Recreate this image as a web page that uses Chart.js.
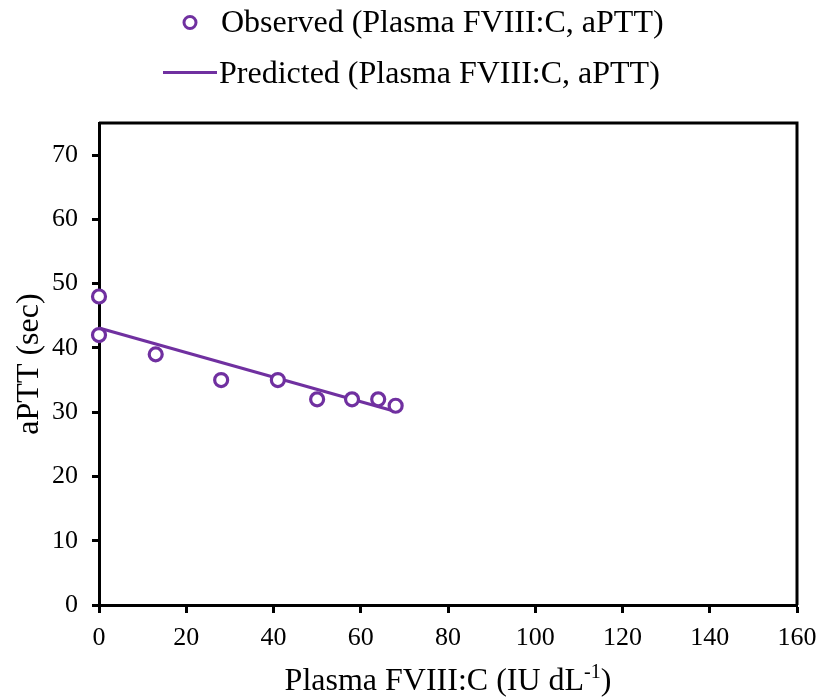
<!DOCTYPE html>
<html>
<head>
<meta charset="utf-8">
<title>aPTT vs Plasma FVIII:C</title>
<script src="https://cdn.jsdelivr.net/npm/chart.js@4.4.1/dist/chart.umd.min.js"></script>
<style>
  html, body { margin: 0; padding: 0; background: #fff; }
  #wrap { width: 821px; height: 698px; }
</style>
</head>
<body>
<div id="wrap"><canvas id="fviiiChart" width="821" height="698"></canvas></div>
<script>
// Observed plasma FVIII:C (IU/dL) and aPTT (sec)
const observedX = [0, 0, 13, 28, 41, 50, 58, 64, 68];
const observedY = [48, 42, 39, 35, 35, 32, 32, 32, 31];

// Model prediction line
const predictedX = [0, 68];
const predictedY = [43.1, 30.1];

const seriesNames = ['Observed (Plasma FVIII:C, aPTT)', 'Predicted (Plasma FVIII:C, aPTT)'];
const xAxisRange = [0, 160, 20];
const yAxisRange = [0, 75, 10];

const PURPLE = '#7030A0';
const FONT = '"Liberation Serif", "Times New Roman", serif';

function toPoints(xs, ys) {
    return xs.map((x, i) => ({ x: x, y: ys[i] }));
}

// Frame around the plot, legend and x title with superscript
const decorations = {
    id: 'decorations',
    afterDraw(chart) {
        const { ctx, chartArea } = chart;
        ctx.save();

        ctx.strokeStyle = '#000';
        ctx.lineWidth = 3;
        ctx.beginPath();
        ctx.moveTo(chartArea.left, chartArea.top);
        ctx.lineTo(chartArea.right, chartArea.top);
        ctx.lineTo(chartArea.right, chartArea.bottom);
        ctx.stroke();

        // legend
        ctx.font = '32px ' + FONT;
        ctx.textBaseline = 'middle';
        ctx.textAlign = 'left';

        ctx.beginPath();
        ctx.arc(190, 22.5, 6, 0, Math.PI * 2);
        ctx.fillStyle = '#fff';
        ctx.fill();
        ctx.strokeStyle = PURPLE;
        ctx.lineWidth = 3;
        ctx.stroke();
        ctx.fillStyle = '#000';
        ctx.fillText(seriesNames[0], 221, 24);

        ctx.beginPath();
        ctx.moveTo(163, 72.5);
        ctx.lineTo(217, 72.5);
        ctx.strokeStyle = PURPLE;
        ctx.lineWidth = 3;
        ctx.stroke();
        ctx.fillText(seriesNames[1], 219, 75);

        // x axis title: Plasma FVIII:C (IU dL-1)
        const main = 'Plasma FVIII:C (IU dL';
        const sup = '-1';
        const tail = ')';
        const bigFont = '32px ' + FONT;
        const smallFont = '20px ' + FONT;
        ctx.textBaseline = 'alphabetic';
        ctx.font = bigFont;
        const w1 = ctx.measureText(main).width;
        const w3 = ctx.measureText(tail).width;
        ctx.font = smallFont;
        const w2 = ctx.measureText(sup).width;
        const cx = (chartArea.left + chartArea.right) / 2;
        let x = cx - (w1 + w2 + w3) / 2;
        const base = 690;
        ctx.font = bigFont;
        ctx.fillText(main, x, base);
        x += w1;
        ctx.font = smallFont;
        ctx.fillText(sup, x, base - 12);
        x += w2;
        ctx.font = bigFont;
        ctx.fillText(tail, x, base);

        ctx.restore();
    }
};

new Chart(document.getElementById('fviiiChart'), {
    type: 'scatter',
    data: {
        datasets: [
            {
                label: seriesNames[0],
                data: toPoints(observedX, observedY),
                showLine: false,
                clip: false,
                pointRadius: 6.5,
                pointHoverRadius: 6.5,
                pointBorderWidth: 3.2,
                pointBackgroundColor: '#fff',
                pointBorderColor: PURPLE,
                borderColor: PURPLE,
                backgroundColor: '#fff'
            },
            {
                label: seriesNames[1],
                type: 'line',
                data: toPoints(predictedX, predictedY),
                clip: false,
                borderColor: PURPLE,
                borderWidth: 3,
                pointRadius: 0,
                fill: false,
                tension: 0
            }
        ]
    },
    options: {
        responsive: false,
        animation: false,
        devicePixelRatio: 1,
        layout: { padding: { top: 123, right: 24, left: 0, bottom: 0 } },
        plugins: {
            legend: { display: false },
            tooltip: { enabled: false }
        },
        scales: {
            x: {
                type: 'linear',
                min: xAxisRange[0],
                max: xAxisRange[1],
                ticks: {
                    stepSize: xAxisRange[2],
                    color: '#000',
                    font: { family: FONT, size: 26 },
                    padding: 10,
                    maxRotation: 0
                },
                grid: {
                    drawOnChartArea: false,
                    drawTicks: true,
                    tickLength: 8,
                    tickWidth: 3,
                    color: '#000'
                },
                border: { color: '#000', width: 3 },
                afterFit(scale) {
                    scale.height = 93;
                    scale.paddingLeft = 0;
                    scale.paddingRight = 0;
                }
            },
            y: {
                type: 'linear',
                min: yAxisRange[0],
                max: yAxisRange[1],
                ticks: {
                    stepSize: yAxisRange[2],
                    includeBounds: false,
                    color: '#000',
                    font: { family: FONT, size: 26 },
                    padding: 14
                },
                grid: {
                    drawOnChartArea: false,
                    drawTicks: true,
                    tickLength: 7,
                    tickWidth: 3,
                    color: '#000'
                },
                border: { color: '#000', width: 3 },
                title: {
                    display: true,
                    text: 'aPTT (sec)',
                    color: '#000',
                    font: { family: FONT, size: 32 },
                    padding: { top: 10, bottom: 0 }
                },
                afterFit(scale) {
                    scale.width = 99;
                    scale.paddingTop = 0;
                    scale.paddingBottom = 0;
                }
            }
        }
    },
    plugins: [decorations]
});
</script>
</body>
</html>
